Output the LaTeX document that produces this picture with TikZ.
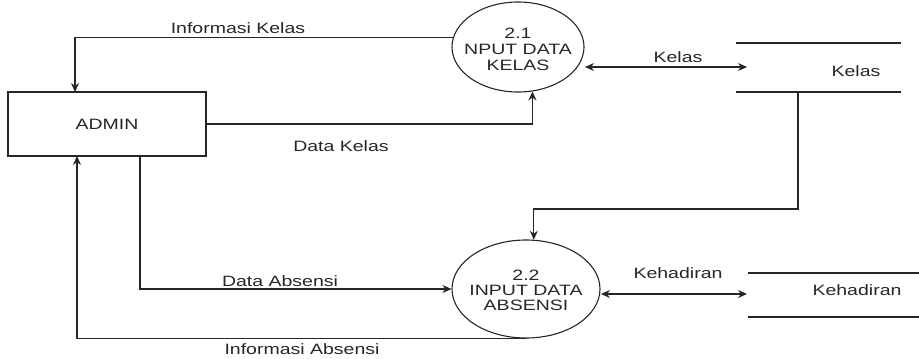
\documentclass[tikz,border=0pt]{standalone}
\usepackage{fontspec}
\setmainfont[FakeStretch=1.3]{Liberation Sans}
\usetikzlibrary{shapes.geometric,arrows.meta}
\begin{document}
\begin{tikzpicture}[x=1pt,y=-1pt,
  every node/.style={font=\fontsize{15}{15}\selectfont, text=black!85},
  flow/.style={draw=black!85, line width=1.1pt},
  tip/.style={-{Stealth[length=9pt,width=8pt]}},
  dtip/.style={{Stealth[length=9pt,width=8pt]}-{Stealth[length=9pt,width=8pt]}},
  entity/.style={draw=black!85, line width=1.1pt, minimum width=198pt, minimum height=64pt, inner sep=0pt},
  process/.style={draw=black!85, line width=1.1pt, ellipse, inner sep=0pt, align=center},
  lbl/.style={inner sep=0pt}]
\useasboundingbox (0,0) rectangle (919,359);

% external entity
\node[entity] (admin) at (107,124) {ADMIN};

% processes
\node[process, minimum width=132pt, minimum height=90pt] (p1) at (518,47) {};
\node[align=center, font=\fontsize{15}{16}\selectfont, text=black!85] (t1) at (518,49) {2.1\\NPUT DATA\\KELAS};
\node[process, minimum width=148pt, minimum height=98pt] (p2) at (526,289) {};
\node[align=center, font=\fontsize{15}{15}\selectfont, text=black!85] (t2) at (526,290) {2.2\\INPUT DATA\\ABSENSI};

% data stores
\coordinate (s1a) at (736,43);  \coordinate (s1b) at (901,43);
\coordinate (s1c) at (736,92);  \coordinate (s1d) at (901,92);
\draw[flow] (s1a) -- (s1b) (s1c) -- (s1d);
\node (s1) at (856,71) {Kelas};

\coordinate (s2a) at (748,273); \coordinate (s2b) at (919,273);
\coordinate (s2c) at (748,317); \coordinate (s2d) at (919,317);
\draw[flow] (s2a) -- (s2b) (s2c) -- (s2d);
\node (s2) at (857,290) {Kehadiran};

% connector end points
\coordinate (ikTop) at (75,92);
\coordinate (k1) at (585,67);   \coordinate (k2) at (747,67);
\coordinate (h1) at (601,294);  \coordinate (h2) at (747,294);
\coordinate (sOut) at (798,92); \coordinate (sBend) at (798,209);
\coordinate (daOut) at (140,156);
\coordinate (iaIn) at (77,156);

% flows
\draw[flow, tip] (p1.172) -| (ikTop);
\draw[flow, tip] (admin.east) -| (p1.-72);
\draw[flow, dtip] (k1) -- (k2);
\draw[flow, tip] (sOut) -- (sBend) -| (p2.81);
\draw[flow, tip] (daOut) |- (p2.west);
\draw[flow, tip] (p2.south) -| (iaIn);
\draw[flow, dtip] (h1) -- (h2);

% flow labels
\node[lbl] (l1) at (238,28) {Informasi Kelas};
\node[lbl] (l2) at (341,146) {Data Kelas};
\node[lbl] (l3) at (678,57) {Kelas};
\node[lbl] (l4) at (280,281) {Data Absensi};
\node[lbl] (l5) at (302,349) {Informasi Absensi};
\node[lbl] (l6) at (678,273) {Kehadiran};
\end{tikzpicture}
\end{document}
